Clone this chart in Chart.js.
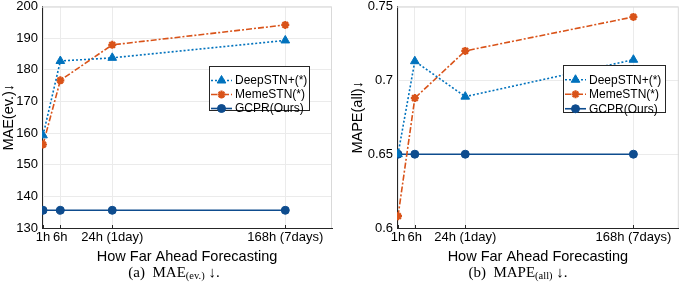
<!DOCTYPE html>
<html>
<head>
<meta charset="utf-8">
<script src="https://cdn.jsdelivr.net/npm/chart.js@4.4.1/dist/chart.umd.min.js"></script>
<style>
  html, body { margin: 0; padding: 0; background: #fff; }
  body { width: 685px; height: 282px; position: relative; overflow: hidden; }
  canvas { position: absolute; top: 0; }
  .cap { position: absolute; top: 264px; font-family: "Liberation Serif", "DejaVu Serif", serif; font-size: 15px; line-height: 17px; color: #000; white-space: nowrap; transform: translateX(-50%); }
  .cap sub { font-size: 10.5px; vertical-align: -2px; line-height: 0; }
</style>
</head>
<body>
<canvas id="maeChart" width="340" height="266" style="left:0"></canvas>
<canvas id="mapeChart" width="345" height="266" style="left:340px"></canvas>
<div class="cap" style="left:174px">(a)&nbsp; MAE<sub>(ev.)</sub> ↓.</div>
<div class="cap" style="left:518px">(b)&nbsp; MAPE<sub>(all)</sub> ↓.</div>
<script>
// forecast horizons and where they sit on the x axis
const horizons = ['1h', '6h', '24h (1day)', '168h (7days)'];
const xPos = [1, 2, 5, 15];

// (a) MAE(ev.)
const maeDeep = [159.3, 182.8, 183.8, 189.3];
const maeMeme = [156.4, 176.7, 187.9, 194.2];
const maeGcpr = [135.6, 135.6, 135.6, 135.6];

// (b) MAPE(all)
const mapeDeep = [0.650, 0.713, 0.689, 0.714];
const mapeMeme = [0.608, 0.688, 0.720, 0.743];
const mapeGcpr = [0.650, 0.650, 0.650, 0.650];

const seriesNames = ['DeepSTN+(*)', 'MemeSTN(*)', 'GCPR(Ours)'];

const FONT = '"Liberation Sans", Arial, sans-serif';
const INK = '#262626';
const GRID = '#ebebeb';

const styles = [
    { color: '#0072BD', dash: [2, 2], point: 'triangle', radius: 5, bw: 1 },
    { color: '#D95319', dash: [6, 2, 2, 2], point: 'star', radius: 4, bw: 2.2 },
    { color: '#0E4C8E', dash: [], point: 'circle', radius: 4, bw: 1 }
];

function makeDatasets(arrays) {
    return arrays.map((arr, i) => ({
        label: seriesNames[i],
        data: xPos.map((x, j) => ({ x, y: arr[j] })),
        borderColor: styles[i].color,
        backgroundColor: styles[i].color,
        borderWidth: 1.6,
        borderDash: styles[i].dash,
        pointStyle: styles[i].point,
        pointRadius: styles[i].radius,
        pointBorderWidth: styles[i].bw,
        pointBackgroundColor: styles[i].color,
        pointBorderColor: styles[i].color,
        tension: 0
    }));
}

// box on the top/right plus a MATLAB-ish legend drawn inside the axes
const frameAndLegend = {
    id: 'frameAndLegend',
    beforeDatasetsDraw(chart) {
        const { ctx, chartArea: a } = chart;
        ctx.save();
        ctx.strokeStyle = '#d9d9d9';
        ctx.lineWidth = 1;
        ctx.beginPath();
        ctx.moveTo(a.left, a.top + 0.5);
        ctx.lineTo(a.right - 0.5, a.top + 0.5);
        ctx.lineTo(a.right - 0.5, a.bottom);
        ctx.stroke();
        // small inward ticks on the x axis
        ctx.strokeStyle = INK;
        const xs = chart.scales.x;
        xPos.forEach(v => {
            const px = Math.round(xs.getPixelForValue(v)) + 0.5;
            ctx.beginPath();
            ctx.moveTo(px, a.bottom);
            ctx.lineTo(px, a.bottom - 3);
            ctx.stroke();
        });
        ctx.restore();
    },
    afterDraw(chart, args, opts) {
        const { ctx } = chart;
        const { x, y, w, h, rowH } = opts;
        ctx.save();
        ctx.fillStyle = '#fff';
        ctx.fillRect(x, y, w, h);
        ctx.strokeStyle = INK;
        ctx.lineWidth = 1;
        ctx.strokeRect(x + 0.5, y + 0.5, w, h);
        ctx.font = '12px ' + FONT;
        ctx.textBaseline = 'middle';
        chart.data.datasets.forEach((ds, i) => {
            const cy = y + 7.5 + rowH * (i + 0.5);
            ctx.strokeStyle = ds.borderColor;
            ctx.lineWidth = 1.6;
            ctx.setLineDash(ds.borderDash);
            ctx.beginPath();
            ctx.moveTo(x + 2, cy);
            ctx.lineTo(x + 23, cy);
            ctx.stroke();
            ctx.setLineDash([]);
            ctx.fillStyle = ds.borderColor;
            ctx.lineWidth = ds.pointBorderWidth;
            Chart.helpers.drawPoint(ctx, {
                pointStyle: ds.pointStyle,
                radius: ds.pointRadius,
                borderWidth: ds.pointBorderWidth,
                rotation: 0
            }, x + 12.5, cy);
            ctx.fillStyle = '#000';
            ctx.fillText(ds.label, x + 26, cy + 0.5);
        });
        ctx.restore();
    }
};

function makeChart(id, arrays, yTitle, yMin, yMax, step, yWidth, titlePad, legend) {
    return new Chart(document.getElementById(id), {
        type: 'line',
        data: { datasets: makeDatasets(arrays) },
        plugins: [frameAndLegend],
        options: {
            responsive: false,
            animation: false,
            devicePixelRatio: 1,
            layout: { padding: { top: 6, right: legend.padRight, left: 0, bottom: 0 } },
            plugins: {
                legend: { display: false },
                tooltip: { enabled: false },
                frameAndLegend: legend
            },
            scales: {
                x: {
                    type: 'linear',
                    min: 0.94,
                    max: 17.7,
                    afterBuildTicks: s => { s.ticks = xPos.map(v => ({ value: v })); },
                    afterFit: s => { s.height = 38; },
                    ticks: {
                        autoSkip: false,
                        maxRotation: 0,
                        padding: 3,
                        color: '#000',
                        font: { family: FONT, size: 13, lineHeight: 1 },
                        callback: v => horizons[xPos.indexOf(v)] ?? ''
                    },
                    grid: { color: GRID, drawTicks: false },
                    border: { color: INK, width: 1 },
                    title: {
                        display: true,
                        text: 'How Far Ahead Forecasting',
                        color: '#000',
                        font: { family: FONT, size: 14.5 },
                        padding: { top: 0, bottom: 0 }
                    }
                },
                y: {
                    min: yMin,
                    max: yMax,
                    afterFit: s => { s.width = yWidth; },
                    ticks: {
                        stepSize: step,
                        padding: 4,
                        color: '#000',
                        font: { family: FONT, size: 13, lineHeight: 0.4 },
                        callback: v => String(+v.toFixed(2))
                    },
                    grid: { color: GRID, drawTicks: false },
                    border: { color: INK, width: 1 },
                    title: {
                        display: true,
                        text: yTitle,
                        color: '#000',
                        font: { family: FONT, size: 14.5 },
                        padding: { top: titlePad, bottom: 0 }
                    }
                }
            }
        }
    });
}

makeChart('maeChart', [maeDeep, maeMeme, maeGcpr], 'MAE(ev.)↓', 130, 200, 10, 42, 0,
    { x: 209, y: 66, w: 100, h: 44, rowH: 14, padRight: 8 });
makeChart('mapeChart', [mapeDeep, mapeMeme, mapeGcpr], 'MAPE(all)↓', 0.6, 0.75, 0.05, 57, 9.5,
    { x: 223, y: 65, w: 102, h: 47, rowH: 14.5, padRight: 1 });
</script>
</body>
</html>
